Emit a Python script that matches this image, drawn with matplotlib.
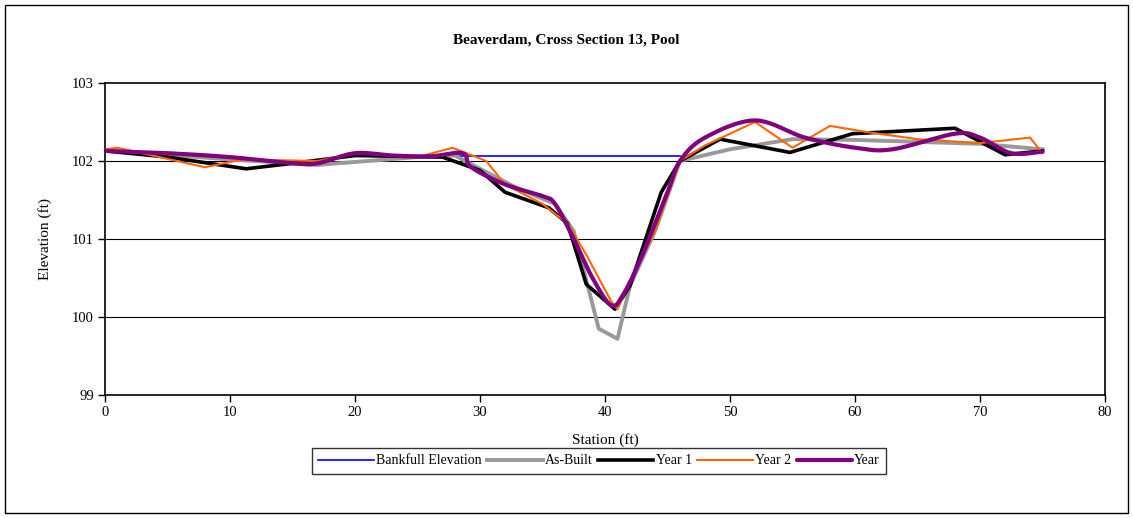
import numpy as np
import matplotlib as mpl
from matplotlib import pyplot as plt
from matplotlib.patches import Rectangle

mpl.rcParams['font.family'] = ['Liberation Serif', 'DejaVu Serif']
mpl.rcParams['font.size'] = 10

# Surveyed cross section 13 (station ft, elevation ft)
bankfull_x = [28.2, 46.0]
bankfull_y = [102.06, 102.06]

asbuilt_x = [0, 5, 10, 17, 21, 25, 28, 30, 33, 36, 37.5, 39.5, 41, 42, 44, 46, 50, 55, 60, 70, 75]
asbuilt_y = [102.13, 102.08, 102.02, 101.95, 102.0, 102.05, 102.07, 101.9, 101.65, 101.45, 101.1,
             99.85, 99.72, 100.4, 101.1, 102.0, 102.15, 102.28, 102.27, 102.22, 102.15]

year1_x = [0, 5, 11.3, 15, 20, 27, 30, 32, 35.5, 37, 38.5, 40.8, 42, 44.5, 46, 49.2, 54.8, 59.8, 68, 72, 75]
year1_y = [102.13, 102.05, 101.9, 101.97, 102.07, 102.05, 101.88, 101.6, 101.4, 101.2, 100.42,
           100.1, 100.4, 101.6, 102.0, 102.28, 102.11, 102.35, 102.42, 102.08, 102.13]

year2_x = [0, 1, 8, 11, 17, 20, 25, 27.8, 30.5, 32, 35, 37, 38.5, 40.5, 41, 42, 44, 46, 48, 52,
           55, 58, 61, 65, 70, 74, 75]
year2_y = [102.15, 102.17, 101.92, 102.02, 102.0, 102.1, 102.05, 102.17, 102.0, 101.7, 101.45,
           101.2, 100.8, 100.2, 100.1, 100.45, 101.1, 102.0, 102.2, 102.5, 102.17, 102.45,
           102.37, 102.28, 102.23, 102.3, 102.1]

year_x = [0, 5, 10, 15, 17, 20, 23, 26, 28.6, 29.3, 32, 35, 36, 37.5, 39, 40.5, 41.5, 43, 45,
          46, 48, 52, 56, 60, 63, 68, 70, 72.5, 75]
year_y = [102.13, 102.1, 102.05, 101.97, 101.97, 102.1, 102.07, 102.06, 102.1, 101.92, 101.7,
          101.55, 101.45, 101.0, 100.5, 100.15, 100.3, 100.8, 101.6, 102.0, 102.3, 102.52,
          102.3, 102.17, 102.15, 102.35, 102.3, 102.1, 102.12]


def smooth_curve(xs, ys, steps=20):
    # Cardinal spline through the points, like a spreadsheet "smoothed line"
    xs = np.asarray(xs, float)
    ys = np.asarray(ys, float)
    px = np.concatenate([[xs[0]], xs, [xs[-1]]])
    py = np.concatenate([[ys[0]], ys, [ys[-1]]])
    out_x, out_y = [], []
    t = np.linspace(0, 1, steps, endpoint=False)
    for i in range(1, len(px) - 2):
        p0, p1, p2, p3 = np.array([px[i-1], py[i-1]]), np.array([px[i], py[i]]), \
            np.array([px[i+1], py[i+1]]), np.array([px[i+2], py[i+2]])
        c1 = p1 + (p2 - p0) / 6.0
        c2 = p2 - (p3 - p1) / 6.0
        b = ((1 - t)**3)[:, None] * p1 + (3 * (1 - t)**2 * t)[:, None] * c1 \
            + (3 * (1 - t) * t**2)[:, None] * c2 + (t**3)[:, None] * p2
        out_x.extend(b[:, 0])
        out_y.extend(b[:, 1])
    out_x.append(xs[-1])
    out_y.append(ys[-1])
    return out_x, out_y


fig = plt.figure(figsize=(11.33, 5.18), dpi=100)
ax = fig.add_axes([105 / 1133, 1 - 395 / 518, 1000 / 1133, 312 / 518])

# outer chart border
fig.patches.append(Rectangle((5 / 1133, 5 / 518), 1123 / 1133, 508 / 518, transform=fig.transFigure,
                             fill=False, edgecolor='black', linewidth=1.0))

for yv in [100, 101, 102]:
    ax.axhline(yv, color='black', linewidth=0.8, zorder=1)

ax.plot(bankfull_x, bankfull_y, color='#0000FF', lw=1.2, label='Bankfull Elevation', zorder=2)
ax.plot(asbuilt_x, asbuilt_y, color='#999999', lw=2.8, label='As-Built', zorder=3)
ax.plot(year1_x, year1_y, color='black', lw=2.6, label='Year 1', zorder=4)
ax.plot(year2_x, year2_y, color='#FF6600', lw=1.5, label='Year 2', zorder=5)
sx, sy = smooth_curve(year_x, year_y)
ax.plot(sx, sy, color='#800080', lw=3.0, label='Year', zorder=6, solid_capstyle='round')

ax.set_xlim(0, 80)
ax.set_ylim(99, 103)
ax.set_xticks(range(0, 81, 10))
ax.set_yticks(range(99, 104))
ax.tick_params(direction='out', length=5, width=1, labelsize=10.5, pad=3)
for sp in ax.spines.values():
    sp.set_linewidth(1.2)
    sp.set_color('black')

ax.set_xlabel('Station (ft)', fontsize=11, labelpad=10)
ax.set_ylabel('Elevation (ft)', fontsize=11, labelpad=14)
fig.text(0.5, 1 - 40 / 518, 'Beaverdam, Cross Section 13, Pool', ha='center', va='center',
         fontsize=11, fontweight='bold')

leg = fig.legend(loc='center', bbox_to_anchor=(599 / 1133, 1 - 461 / 518), ncol=5, frameon=True,
                 fancybox=False, edgecolor='black', fontsize=10, handlelength=4.0,
                 handletextpad=0.15, columnspacing=0.4, borderpad=0.45, borderaxespad=0)
leg.get_frame().set_linewidth(1.0)

fig.savefig('out.png', dpi=100)
